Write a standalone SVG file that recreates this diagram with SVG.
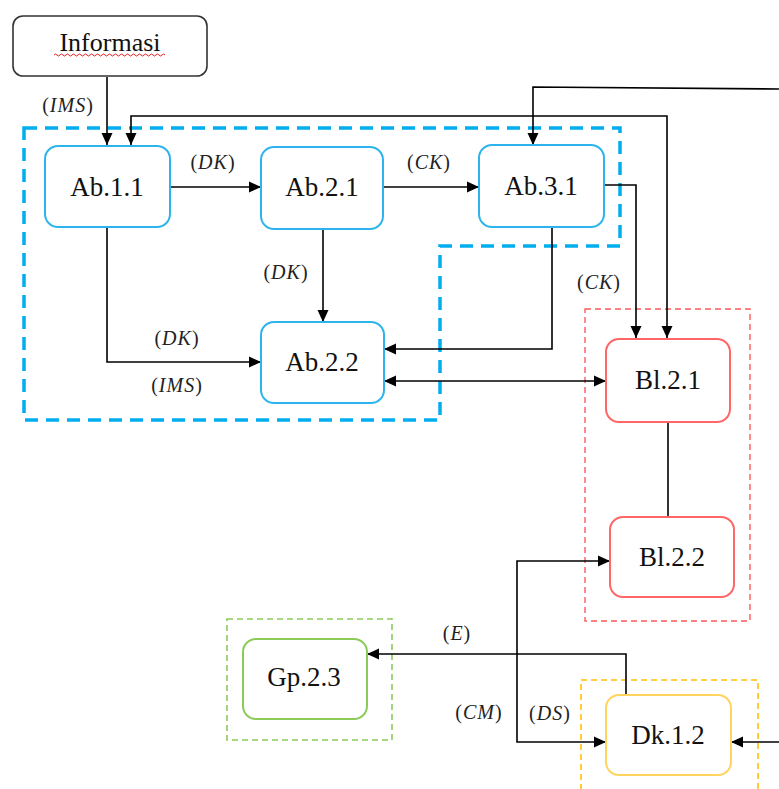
<svg xmlns="http://www.w3.org/2000/svg" width="779" height="789" viewBox="0 0 779 789">
  <style>
    .node-text { font-family: "Liberation Serif", "Times New Roman", serif; font-size: 27px; fill: #111; text-anchor: middle; }
    .lbl { font-family: "Liberation Serif", "Times New Roman", serif; font-size: 20px; fill: #222; text-anchor: middle; letter-spacing: 1px; }
    .lbl .v { font-style: italic; }
    .conn { fill: none; stroke: #000; stroke-width: 1.6; }
    .box-blue { fill: #fff; stroke: #2DB4EC; stroke-width: 2; }
    .box-red { fill: #fff; stroke: #FF6666; stroke-width: 2; }
    .box-green { fill: #fff; stroke: #8CCB5A; stroke-width: 2; }
    .box-yellow { fill: #fff; stroke: #FFD45E; stroke-width: 2; }
    .box-black { fill: #fff; stroke: #333; stroke-width: 1.6; }
    .grp-blue { fill: none; stroke: #00AEEF; stroke-width: 3.5; stroke-dasharray: 13 8; }
    .grp-red { fill: none; stroke: #FF5A5A; stroke-width: 1.4; stroke-dasharray: 6 4; }
    .grp-green { fill: none; stroke: #8CCB5A; stroke-width: 1.6; stroke-dasharray: 6 4; }
    .grp-yellow { fill: none; stroke: #FFC000; stroke-width: 1.6; stroke-dasharray: 6 4; }
  </style>
  <defs>
    <marker id="arrow" markerUnits="userSpaceOnUse" markerWidth="13" markerHeight="13" refX="12" refY="6.5" orient="auto-start-reverse">
      <path d="M0,1 L12,6.5 L0,12 Z" fill="#000"/>
    </marker>
  </defs>

  <rect width="779" height="789" fill="#fff"/>

  <!-- group outlines -->
  <g id="groups">
    <path class="grp-blue" d="M24,128 H620 V246 H440 V420 H24 Z"/>
    <rect class="grp-red" x="585" y="309" width="165" height="312"/>
    <rect class="grp-green" x="227" y="619" width="165" height="121"/>
    <path class="grp-yellow" d="M581,800 V680 H758 V800"/>
  </g>

  <!-- connectors -->
  <g id="connectors">
    <path class="conn" d="M107,77 V145" marker-end="url(#arrow)"/>
    <path class="conn" d="M131,145 V116 H667 V338" marker-start="url(#arrow)" marker-end="url(#arrow)"/>
    <path class="conn" d="M779,89 L533,87 V145" marker-end="url(#arrow)"/>
    <path class="conn" d="M170,187 H261" marker-end="url(#arrow)"/>
    <path class="conn" d="M383,187 H479" marker-end="url(#arrow)"/>
    <path class="conn" d="M604,185 H636 V338" marker-end="url(#arrow)"/>
    <path class="conn" d="M323,229 V322" marker-end="url(#arrow)"/>
    <path class="conn" d="M107,227 V362 H261" marker-end="url(#arrow)"/>
    <path class="conn" d="M552,227 V349 H384" marker-end="url(#arrow)"/>
    <path class="conn" d="M384,381 H606" marker-start="url(#arrow)" marker-end="url(#arrow)"/>
    <path class="conn" d="M668,422 V517"/>
    <path class="conn" d="M610,561 H517 V742 H606" marker-start="url(#arrow)" marker-end="url(#arrow)"/>
    <path class="conn" d="M626,695 V654 H367" marker-end="url(#arrow)"/>
    <path class="conn" d="M779,742 H731" marker-end="url(#arrow)"/>
  </g>

  <!-- connector labels -->
  <g id="labels">
    <text class="lbl" x="68" y="112">(<tspan class="v">IMS</tspan>)</text>
    <text class="lbl" x="213" y="169">(<tspan class="v">DK</tspan>)</text>
    <text class="lbl" x="429" y="169">(<tspan class="v">CK</tspan>)</text>
    <text class="lbl" x="286" y="279">(<tspan class="v">DK</tspan>)</text>
    <text class="lbl" x="177" y="345">(<tspan class="v">DK</tspan>)</text>
    <text class="lbl" x="177" y="392">(<tspan class="v">IMS</tspan>)</text>
    <text class="lbl" x="599" y="289">(<tspan class="v">CK</tspan>)</text>
    <text class="lbl" x="457" y="640">(<tspan class="v">E</tspan>)</text>
    <text class="lbl" x="479" y="719">(<tspan class="v">CM</tspan>)</text>
    <text class="lbl" x="550" y="720">(<tspan class="v">DS</tspan>)</text>
  </g>

  <!-- nodes -->
  <g id="informasi">
    <rect class="box-black" x="13" y="16" width="194" height="60" rx="10"/>
    <text class="node-text" x="110" y="51" style="font-size:26px">Informasi</text>
    <path d="M54,55 q1.5,-2 3,0 t3,0 t3,0 t3,0 t3,0 t3,0 t3,0 t3,0 t3,0 t3,0 t3,0 t3,0 t3,0 t3,0 t3,0 t3,0 t3,0 t3,0 t3,0 t3,0 t3,0 t3,0 t3,0 t3,0 t3,0 t3,0 t3,0 t3,0 t3,0 t3,0 t3,0 t3,0 t3,0 t3,0 t3,0 t3,0 t3,0" fill="none" stroke="#E02020" stroke-width="1"/>
  </g>
  <g id="ab-1-1">
    <rect class="box-blue" x="45" y="146" width="125" height="81" rx="13"/>
    <text class="node-text" x="107" y="196">Ab.1.1</text>
  </g>
  <g id="ab-2-1">
    <rect class="box-blue" x="261" y="147" width="122" height="82" rx="13"/>
    <text class="node-text" x="322" y="196">Ab.2.1</text>
  </g>
  <g id="ab-3-1">
    <rect class="box-blue" x="479" y="145" width="125" height="82" rx="13"/>
    <text class="node-text" x="541" y="195">Ab.3.1</text>
  </g>
  <g id="ab-2-2">
    <rect class="box-blue" x="261" y="322" width="123" height="81" rx="13"/>
    <text class="node-text" x="322" y="371">Ab.2.2</text>
  </g>
  <g id="bl-2-1">
    <rect class="box-red" x="606" y="339" width="124" height="83" rx="13"/>
    <text class="node-text" x="668" y="389">Bl.2.1</text>
  </g>
  <g id="bl-2-2">
    <rect class="box-red" x="610" y="517" width="124" height="80" rx="13"/>
    <text class="node-text" x="672" y="566">Bl.2.2</text>
  </g>
  <g id="gp-2-3">
    <rect class="box-green" x="243" y="639" width="124" height="80" rx="13"/>
    <text class="node-text" x="304" y="686">Gp.2.3</text>
  </g>
  <g id="dk-1-2">
    <rect class="box-yellow" x="606" y="695" width="125" height="80" rx="13"/>
    <text class="node-text" x="668" y="744">Dk.1.2</text>
  </g>
</svg>
